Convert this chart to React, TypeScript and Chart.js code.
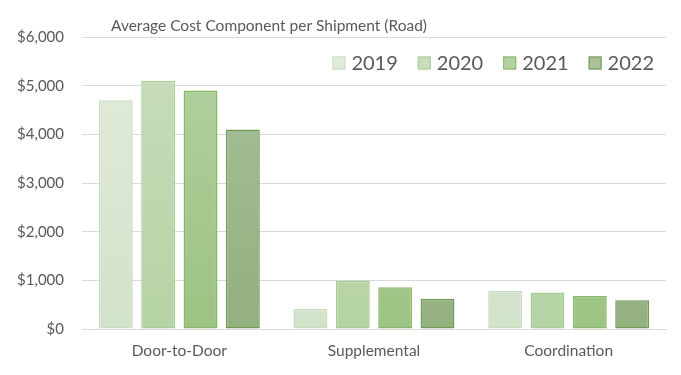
import React, { useEffect, useRef } from "react";
import { Chart, registerables } from "chart.js";

Chart.register(...registerables);

const categories = ["Door-to-Door", "Supplemental", "Coordination"];
const years = ["2019", "2020", "2021", "2022"];
const v2019 = [4700, 410, 780];
const v2020 = [5100, 990, 750];
const v2021 = [4900, 860, 680];
const v2022 = [4100, 620, 590];
const yMax = 6000;
const yStep = 1000;
const titleText = "Average Cost Component per Shipment (Road)";

const seriesValues = [v2019, v2020, v2021, v2022];
const fillTop = ["#e1ebdb", "#c9ddbd", "#b3d1a1", "#a9c09b"];
const fillBottom = ["#d3e2ca", "#b5d3a4", "#9cc383", "#93b07f"];
const borders = ["#c9dcbf", "#a8cd94", "#85b768", "#6e9b55"];
const FONT = "Lato, 'Open Sans', sans-serif";

export default function App() {
  const ref = useRef<HTMLCanvasElement | null>(null);
  useEffect(() => {
    document.body.style.margin = "0";
    const canvas = ref.current!;
    const grad = (i: number) => (ctx: any) => {
      const chart = ctx.chart;
      const area = chart.chartArea;
      if (!area) return fillBottom[i];
      const g = chart.ctx.createLinearGradient(0, area.top, 0, area.bottom);
      g.addColorStop(0, fillTop[i]);
      g.addColorStop(1, fillBottom[i]);
      return g;
    };
    const titlePlugin = {
      id: "customTitle",
      afterDraw(chart: any) {
        const c = chart.ctx;
        c.save();
        c.font = `15.5px ${FONT}`;
        c.fillStyle = "#595959";
        c.textAlign = "center";
        c.textBaseline = "middle";
        c.fillText(titleText, 269, 26);
        c.restore();
      },
    };
    const legendPlugin = {
      id: "customLegend",
      afterDraw(chart: any) {
        const c = chart.ctx;
        const area = chart.chartArea;
        c.save();
        c.font = `20px ${FONT}`;
        c.textBaseline = "middle";
        const box = 13;
        const gap = 6;
        const spacing = 20;
        const items = chart.data.datasets.map((d: any, i: number) => ({
          label: d.label,
          w: box + gap + c.measureText(d.label).width,
          i,
        }));
        const total = items.reduce((s: number, it: any) => s + it.w, 0) + spacing * (items.length - 1);
        let x = area.right - 12 - total;
        const y = area.top + 26;
        items.forEach((it: any) => {
          c.fillStyle = fillTop[it.i];
          c.fillRect(x, y - box / 2, box, box);
          c.strokeStyle = borders[it.i];
          c.lineWidth = 1;
          c.strokeRect(x + 0.5, y - box / 2 + 0.5, box - 1, box - 1);
          c.fillStyle = "#595959";
          c.textAlign = "left";
          c.fillText(it.label, x + box + gap, y + 1);
          x += it.w + spacing;
        });
        c.restore();
      },
    };
    const chart = new Chart(canvas, {
      type: "bar",
      data: {
        labels: categories,
        datasets: years.map((y, i) => ({
          label: y,
          data: seriesValues[i],
          backgroundColor: grad(i),
          borderColor: borders[i],
          borderWidth: 1.5,
          borderSkipped: false,
          categoryPercentage: 0.87,
          barPercentage: 0.8,
        })),
      },
      options: {
        animation: false,
        responsive: false,
        maintainAspectRatio: false,
        layout: { padding: { top: 37, right: 15, left: 0, bottom: 0 } },
        plugins: {
          legend: { display: false },
          title: { display: false },
          tooltip: { enabled: false },
        },
        scales: {
          x: {
            grid: { display: false, drawTicks: false },
            border: { display: true, color: "#d9d9d9", width: 1 },
            ticks: { color: "#595959", font: { family: FONT, size: 15.5 }, padding: 13 },
            afterFit: (axis: any) => {
              axis.height = 46;
            },
          },
          y: {
            min: 0,
            max: yMax,
            grid: { color: "#d9d9d9", drawTicks: false, lineWidth: 1 },
            border: { display: false },
            ticks: {
              stepSize: yStep,
              color: "#595959",
              font: { family: FONT, size: 15 },
              padding: 18,
              callback: (v: any) => "$" + Number(v).toLocaleString("en-US"),
            },
            afterFit: (axis: any) => {
              axis.width = 82;
            },
          },
        },
      },
      plugins: [titlePlugin, legendPlugin],
    });
    return () => chart.destroy();
  }, []);
  return (
    <div style={{ width: 681, height: 375 }}>
      <canvas ref={ref} width={681} height={375} style={{ display: "block" }} />
    </div>
  );
}
